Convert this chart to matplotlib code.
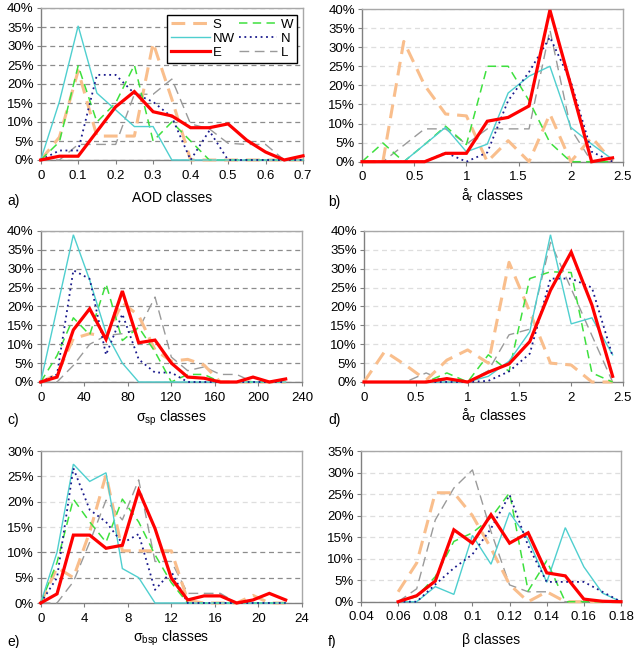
import matplotlib
matplotlib.use("Agg")
import matplotlib.pyplot as plt
import numpy as np
from matplotlib.ticker import FuncFormatter, MultipleLocator

plt.rcParams['font.family'] = ['Liberation Sans', 'DejaVu Sans']
plt.rcParams['mathtext.fontset'] = 'custom'
plt.rcParams['mathtext.rm'] = 'Liberation Sans'

nan = np.nan
# ---------- panel a: AOD ----------
a_x = [0, 0.05, 0.1, 0.15, 0.2, 0.25, 0.3, 0.35, 0.4, 0.45, 0.5, 0.55, 0.6, 0.65, 0.7]
a_S = [0, 6, 23.5, 6.3, 6.3, 6.3, 30.8, 16, 0, 0, 0, 0, 0, 0, 0]
a_W = [0, 4.8, 24.8, 10, 15, 25, 5, 10, 5, 0, 0, 0, 0, 0, 0]
a_NW = [0, 15.4, 35.3, 17.6, 13.2, 8.8, 8.8, 0, 0, 0, 0, 0, 0, 0, 0]
a_N = [0, 2.5, 2.5, 22.4, 22.4, 17.5, 15.3, 11.3, 0, 7.7, 0, 0, 0, 0, 0]
a_E = [0, 1, 1, 7.5, 14, 18, 12.7, 11.6, 8.5, 8.5, 9.5, 5.2, 2.1, 0, 1.1]
a_L = [0, 0, 4.1, 4.1, 4.1, 17.3, 17.3, 21.3, 9.5, 8.2, 4.4, 4.1, 4.1, 0, 0]

# ---------- panel b: alpha_r ----------
b_x = [0, 0.2, 0.4, 0.6, 0.8, 1.0, 1.2, 1.4, 1.6, 1.8, 2.0, 2.2, 2.4]
b_S = [0, 0, 31.5, 20, 12.5, 12, 0, 5.5, 0, 12.5, 0, 6.4, 0]
b_W = [0, 4.9, 0, 4.5, 9.3, 4.5, 25, 25, 16, 5, 0, 0, 0]
b_NW = [0, 0, 0, 4.5, 9.0, 2.6, 4.6, 18, 22.4, 25, 9, 4.6, 0.6]
b_N = [0, 0, 0, 0, 2.4, 0, 2.4, 16, 23.5, 32.6, 21, 2.6, 0]
b_E = [0, 0, 0, 0, 2.2, 2.2, 10.6, 11.6, 14.6, 39.7, 20, 0, 1]
b_L = [0, 0, 4.3, 8.6, 8.6, 4.6, 8.6, 8.6, 8.6, 34.5, 8.6, 0, 0]

# ---------- panel c: sigma_sp ----------
c_x = [0, 15, 30, 45, 60, 75, 90, 105, 120, 135, 150, 165, 180, 195, 210, 225]
c_S = [0, 2, 11.5, 12.8, 12, 21, 17.6, 8.5, 5.5, 6, 4.5, 0, 0, 0, 0, 0]
c_W = [0, 7, 17, 12.5, 26, 11, 14.5, 8, 0, 2, 2, 0, 0, 0, 0, 0]
c_NW = [0, 19.5, 39, 27, 13, 5, 0, 0, 0, 0, 0, 0, 0, 0, 0, 0]
c_N = [0, 2, 29.6, 27.3, 7.2, 18, 6, 2.5, 2.5, 0, 0, 0, 0, 0, 0, 0]
c_E = [0, 1.3, 13.8, 19.4, 11.3, 24.1, 10.4, 11.1, 5, 1.3, 1, 0, 0, 1.3, 0, 0.8]
c_L = [0, 0, 4.4, 10, 12.3, 12.8, 14, 22.5, 6.6, 3, 4, 2, 2, 0, 0, 0]

# ---------- panel d: alpha_sigma ----------
d_x = [0, 0.2, 0.4, 0.6, 0.8, 1.0, 1.2, 1.4, 1.6, 1.8, 2.0, 2.2, 2.4]
d_S = [0, 8.1, 4.5, 0.5, 5.8, 8.5, 5, 31.7, 18.6, 5, 4.5, 0, 0]
d_W = [0, 0, 0, 0, 2.4, 0, 7.2, 2.8, 27.4, 29.2, 29, 2.4, 0]
d_NW = [0, 0, 0, 0, 0, 0, 1.5, 5.5, 13.3, 39, 15.4, 17, 7.2]
d_N = [0, 0, 0, 0, 0, 0, 0.3, 2.8, 7.5, 27.4, 27.4, 25, 6.8]
d_E = [0, 0, 0, 0, 0.9, 0, 2.6, 4.8, 10.7, 24.3, 34.4, 20.4, 1.5]
d_L = [0, 0, 0, 2.4, 0, 0, 3, 12.5, 14, 37, 24.7, 12.3, 0]

# ---------- panel e: sigma_bsp ----------
e_x = [0, 1.5, 3, 4.5, 6, 7.5, 9, 10.5, 12, 13.5, 15, 16.5, 18, 19.5, 21, 22.5]
e_S = [0, 7, 5, 14, 25.3, 10.3, 10.3, 10.3, 10.3, 0.5, 0, 0, 0, 1.5, 0, 0]
e_W = [0, 8, 20.5, 16, 12, 20.5, 16, 9.5, 4, 0, 0, 0, 0, 0, 0, 0]
e_NW = [0, 10, 27.4, 24, 25.7, 6.8, 5, 0, 0, 0, 0, 0, 0, 0, 0, 0]
e_N = [0, 5, 26.6, 18.4, 16, 11.8, 13.6, 2.6, 6.2, 0, 0, 0, 0, 0, 0, 0]
e_E = [0, 1.8, 13.4, 13.4, 10.8, 11.4, 22.2, 14.7, 4.9, 0.6, 1.4, 1.4, 0, 0.6, 1.9, 0.6]
e_L = [0, 0, 4.2, 12, 20.3, 16.4, 24.3, 8.2, 8.2, 1.9, 1.9, 1.9, 0, 0, 0, 0]

# ---------- panel f: beta ----------
f_x = [0.06, 0.07, 0.08, 0.09, 0.10, 0.11, 0.12, 0.13, 0.14, 0.15, 0.16, 0.17, 0.18]
f_S = [2.3, 9, 25.3, 25.3, 20, 12.4, 4, 0, 2.3, 0, 0, 0, 0]
f_W = [0, 1.2, 5.8, 14, 16, 19.5, 25.3, 2.5, 9.5, 0, 0, 0, 0]
f_NW = [0, 0, 3.5, 1.7, 15.4, 8.7, 20.7, 14.5, 4.5, 17.2, 8.1, 2, 0]
f_N = [0, 0, 4, 7.8, 11, 17, 24.8, 13, 4.6, 4.6, 4.6, 2.3, 0]
f_E = [0, 1.4, 4.8, 16.7, 13.6, 20.2, 13.6, 16, 6.7, 6, 0.6, 0.1, 0]
f_L = [0, 3, 19, 26.4, 30.6, 16.3, 3.9, 2.3, 2.3, 0, 0, 0, 0]

labels = ['S', 'W', 'NW', 'N', 'E', 'L']

styles = {
    'S': dict(color='#F9BE8C', lw=2.2, dashes=(4.5, 2.6)),
    'W': dict(color='#3EE03E', lw=1.1, dashes=(5.5, 3.5)),
    'NW': dict(color='#4FCFCF', lw=1.0),
    'N': dict(color='#1A1A8C', lw=1.3, dashes=(1, 2)),
    'E': dict(color='#FF0000', lw=2.3),
    'L': dict(color='#9A9A9A', lw=1.0, dashes=(7, 4)),
}
draw_order = ['L', 'S', 'W', 'NW', 'N', 'E']

W, H = 642, 648
fig = plt.figure(figsize=(W / 100, H / 100), dpi=100)

def ax_at(x0, y0, x1, y1):
    return fig.add_axes([x0 / W, 1 - y1 / H, (x1 - x0) / W, (y1 - y0) / H])

panels = [
    dict(pos=(40.7, 8, 303, 160), x=a_x, data=[a_S, a_W, a_NW, a_N, a_E, a_L],
         xlim=(0, 0.7), xstep=0.1, ymax=40, xlabel='AOD classes', tag='a)',
         grid='#8c8c8c', xlab_y=198, tag_y=201),
    dict(pos=(362, 9, 623, 161.7), x=b_x, data=[b_S, b_W, b_NW, b_N, b_E, b_L],
         xlim=(0, 2.5), xstep=0.5, ymax=40, xlabel='å$_\\mathregular{r}$ classes', tag='b)',
         grid='#dedede', xlab_y=196, tag_y=202),
    dict(pos=(40.7, 231, 302, 382), x=c_x, data=[c_S, c_W, c_NW, c_N, c_E, c_L],
         xlim=(0, 240), xstep=40, ymax=40, xlabel='σ$_\\mathregular{sp}$ classes', tag='c)',
         grid='#8c8c8c', xlab_y=418, tag_y=420),
    dict(pos=(364, 231, 623, 382), x=d_x, data=[d_S, d_W, d_NW, d_N, d_E, d_L],
         xlim=(0, 2.5), xstep=0.5, ymax=40, xlabel='å$_\\mathregular{σ}$ classes', tag='d)',
         grid='#dedede', xlab_y=416, tag_y=420),
    dict(pos=(40.7, 451, 302, 603), x=e_x, data=[e_S, e_W, e_NW, e_N, e_E, e_L],
         xlim=(0, 24), xstep=4, ymax=30, xlabel='σ$_\\mathregular{bsp}$ classes', tag='e)',
         grid='#dedede', xlab_y=638, tag_y=642),
    dict(pos=(361, 451, 621, 601.7), x=f_x, data=[f_S, f_W, f_NW, f_N, f_E, f_L],
         xlim=(0.04, 0.18), xstep=0.02, ymax=35, xlabel='β classes', tag='f)',
         grid='#dedede', xlab_y=640, tag_y=642),
]

fmt_x = FuncFormatter(lambda v, p: ('%.2f' % v).rstrip('0').rstrip('.') if abs(v) > 1e-9 else '0')
fmt_y = FuncFormatter(lambda v, p: '%d%%' % round(v))

handles = {}
for i, P in enumerate(panels):
    ax = ax_at(*P['pos'])
    series = dict(zip(labels, P['data']))
    for name in draw_order:
        st = dict(styles[name])
        kw = dict(color=st['color'], lw=st['lw'], solid_joinstyle='miter',
                  dash_capstyle='butt', zorder=3, clip_on=False)
        line, = ax.plot(P['x'], series[name], label=name, **kw)
        if 'dashes' in st:
            line.set_dashes(st['dashes'])
        handles[name] = line
    ax.set_xlim(*P['xlim'])
    ax.set_ylim(0, P['ymax'])
    ax.xaxis.set_major_locator(MultipleLocator(P['xstep']))
    ax.yaxis.set_major_locator(MultipleLocator(5))
    ax.xaxis.set_major_formatter(fmt_x)
    ax.yaxis.set_major_formatter(fmt_y)
    ax.tick_params(labelsize=9.5, length=3, width=0.8, color='#808080', pad=4)
    ax.tick_params(axis='y', pad=2)
    ax.yaxis.grid(True, color=P['grid'], linestyle=(0, (4, 3)), lw=0.9)
    ax.set_axisbelow(True)
    for s in ['left', 'bottom']:
        ax.spines[s].set_color('#808080')
        ax.spines[s].set_linewidth(1.0)
    for s in ['top', 'right']:
        ax.spines[s].set_color('#a8a8a8')
        ax.spines[s].set_linewidth(1.0)
    x0, y0, x1, y1 = P['pos']
    fig.text((x0 + x1) / 2 / W, 1 - P['xlab_y'] / H, P['xlabel'], ha='center', va='center', fontsize=10)
    fig.text((7 if x0 < 200 else 328) / W, 1 - P['tag_y'] / H, P['tag'], ha='left', va='center', fontsize=10)
    if i == 4:
        gl = ax.get_ygridlines()
        for ln, v in zip(gl, ax.get_yticks()):
            if v in (5, 10):
                ln.set_color('#8c8c8c')
    if i == 0:
        legax = ax

order = ['S', 'NW', 'E', 'W', 'N', 'L']
leg = legax.legend([handles[k] for k in order], order, ncol=2, loc='upper right',
                   bbox_to_anchor=(0.977, 0.955), borderaxespad=0, fontsize=9.5,
                   handlelength=2.9, handletextpad=0.25, columnspacing=0.3,
                   labelspacing=0.12, borderpad=0.3, fancybox=False, framealpha=1)
leg.get_frame().set_edgecolor('black')
leg.get_frame().set_linewidth(1.0)

fig.savefig('out.png', dpi=100)
